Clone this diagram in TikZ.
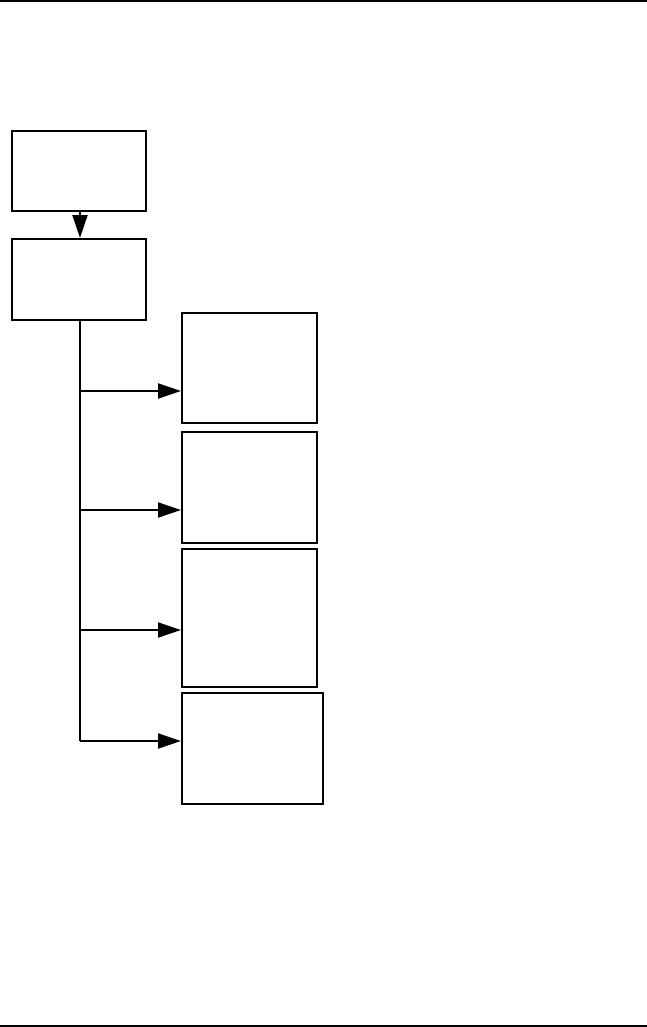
\documentclass[tikz,border=0pt]{standalone}
\usetikzlibrary{arrows.meta}
\begin{document}
\begin{tikzpicture}[x=1pt,y=-1pt,
  box/.style={draw,line width=2pt,rectangle,inner sep=0pt},
  conn/.style={line width=2pt},
  arr/.style={line width=2pt,-{Triangle[length=23pt,width=15pt]}}]
\useasboundingbox (0,0) rectangle (647,1027);
\draw[line width=2pt] (0,1) coordinate (tl) -- (647,1) coordinate (tr);
\draw[line width=2pt] (0,1026) coordinate (bl) -- (647,1026) coordinate (br);
\node[box,minimum width=134pt,minimum height=80pt] (b1) at (79,171) {};
\node[box,minimum width=134pt,minimum height=81pt] (b2) at (79,279.5) {};
\node[box,minimum width=135pt,minimum height=110pt] (b3) at (249.5,367.5) {};
\node[box,minimum width=135pt,minimum height=111pt] (b4) at (249.5,487.5) {};
\node[box,minimum width=135pt,minimum height=138pt] (b5) at (249.5,618) {};
\node[box,minimum width=141pt,minimum height=111pt] (b6) at (252.5,748.5) {};
\coordinate (j1) at (80,391);
\coordinate (j2) at (80,510);
\coordinate (j3) at (80,630);
\coordinate (j4) at (80,741);
\draw[arr] (b1.south -| j1) -- (b2.north -| j1);
\draw[conn] (b2.south -| j1) -- (j4);
\draw[arr] (j1) -- (j1 -| b3.west);
\draw[arr] (j2) -- (j2 -| b4.west);
\draw[arr] (j3) -- (j3 -| b5.west);
\draw[arr] (j4) -- (j4 -| b6.west);
\end{tikzpicture}
\end{document}
